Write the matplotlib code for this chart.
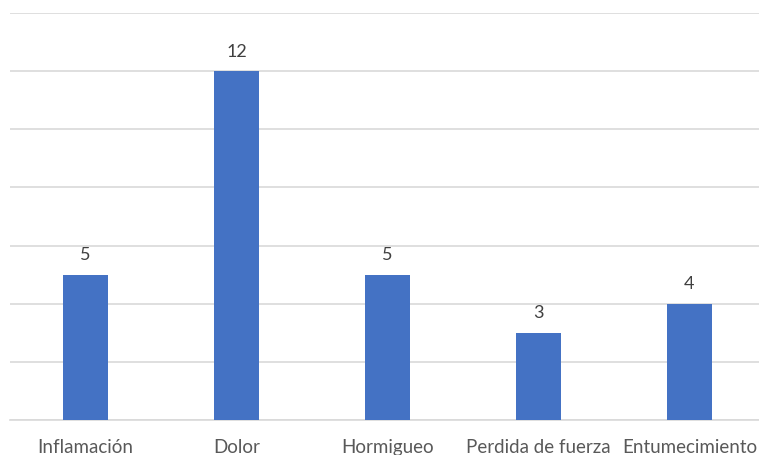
import matplotlib
matplotlib.use("Agg")
import matplotlib.pyplot as plt

categorias = ["Inflamación", "Dolor", "Hormigueo", "Perdida de fuerza", "Entumecimiento"]
valores = [5, 12, 5, 3, 4]

plt.rcParams['font.family'] = ['Lato', 'DejaVu Sans']

fig = plt.figure(figsize=(7.59, 4.56), dpi=100)
ax = fig.add_axes([10 / 759, 1 - 421 / 456, 755 / 759, (421 - 14) / 456])

x = range(len(categorias))
barras = ax.bar(x, valores, width=0.30, color="#4472C4", zorder=3)

for b, v in zip(barras, valores):
    ax.annotate(str(v), (b.get_x() + b.get_width() / 2, v),
                xytext=(0, 9), textcoords="offset points",
                ha="center", va="bottom", fontsize=13, color="#404040")

ax.set_xlim(-0.5, 4.5)
ax.set_ylim(0, 14)
ax.set_yticks(range(0, 15, 2))
ax.yaxis.grid(True, color="#D9D9D9", linewidth=1.2, zorder=0)
ax.set_yticklabels([])
ax.tick_params(axis="y", length=0)
ax.tick_params(axis="x", length=0, pad=13, labelsize=13.5, labelcolor="#595959")
ax.set_xticks(list(x))
ax.set_xticklabels(categorias)

for s in ["top", "right", "left"]:
    ax.spines[s].set_visible(False)
ax.spines["bottom"].set_color("#D9D9D9")
ax.spines["bottom"].set_linewidth(1.2)

fig.savefig("out.png", dpi=100)
